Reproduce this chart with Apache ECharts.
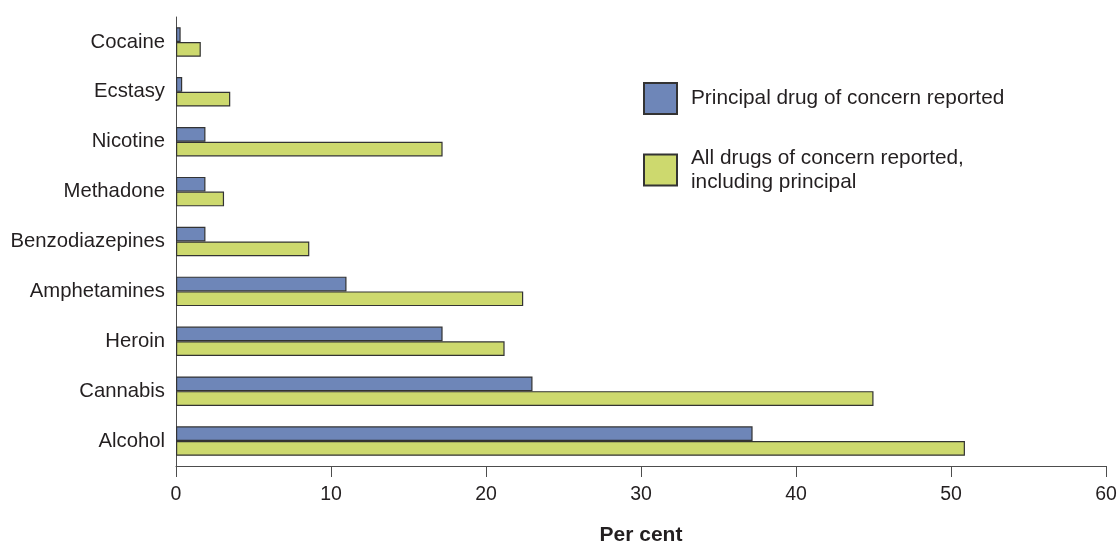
<!DOCTYPE html>
<html>
<head>
<meta charset="utf-8">
<script src="https://cdn.jsdelivr.net/npm/echarts@6/dist/echarts.min.js"></script>
<style>
html,body{margin:0;padding:0;background:#fff;}
#chart{width:1119px;height:542px;}
</style>
</head>
<body>
<div id="chart"></div>
<script>
const categories = ['Alcohol','Cannabis','Heroin','Amphetamines','Benzodiazepines','Methadone','Nicotine','Ecstasy','Cocaine'];
const principal = [37.2, 23.0, 17.2, 11.0, 1.9, 1.9, 1.9, 0.4, 0.3];
const allDrugs = [50.9, 45.0, 21.2, 22.4, 8.6, 3.1, 17.2, 3.5, 1.6];
const xTicks = [0, 10, 20, 30, 40, 50, 60];
const seriesNames = ['Principal drug of concern reported', 'All drugs of concern reported,\nincluding principal'];

const font = 'Liberation Sans, Arial, Helvetica, sans-serif';
const chart = echarts.init(document.getElementById('chart'), null, {renderer:'canvas'});
chart.setOption({
  animation:false,
  backgroundColor:'#fff',
  textStyle:{fontFamily:font},
  grid:{left:176, right:13, top:17, bottom:76, containLabel:false, outerBoundsMode:'none'},
  legend:{
    orient:'vertical', left:643, top:82, padding:0,
    itemWidth:33, itemHeight:31, itemGap:31,
    icon:'rect',
    textStyle:{fontSize:20.8, color:'#231f20', fontFamily:font, lineHeight:24, padding:[0,0,0,9]},
    data:seriesNames
  },
  xAxis:{
    type:'value', min:xTicks[0], max:xTicks[xTicks.length-1], interval:10,
    name:'Per cent', nameLocation:'middle', nameGap:59,
    nameTextStyle:{fontSize:21, fontWeight:'bold', color:'#231f20', fontFamily:font},
    axisLine:{show:true, lineStyle:{color:'#4d4d4d', width:1}},
    axisTick:{show:true, length:11, lineStyle:{color:'#4d4d4d'}},
    axisLabel:{fontSize:19.5, color:'#231f20', margin:19, fontFamily:font},
    splitLine:{show:false}
  },
  yAxis:{
    type:'category', data:categories,
    axisLine:{show:true, lineStyle:{color:'#4d4d4d', width:1}},
    axisTick:{show:false},
    axisLabel:{fontSize:20.3, color:'#231f20', margin:11, fontFamily:font},
    splitLine:{show:false}
  },
  series:[
    {name:seriesNames[0], type:'bar', data:principal, barGap:'0%', barCategoryGap:'41%',
     itemStyle:{color:'#6e86b8', borderColor:'#333333', borderWidth:1.2}},
    {name:seriesNames[1], type:'bar', data:allDrugs, barGap:'0%', barCategoryGap:'41%',
     itemStyle:{color:'#cdd96e', borderColor:'#333333', borderWidth:1.2}}
  ]
});
</script>
</body>
</html>
